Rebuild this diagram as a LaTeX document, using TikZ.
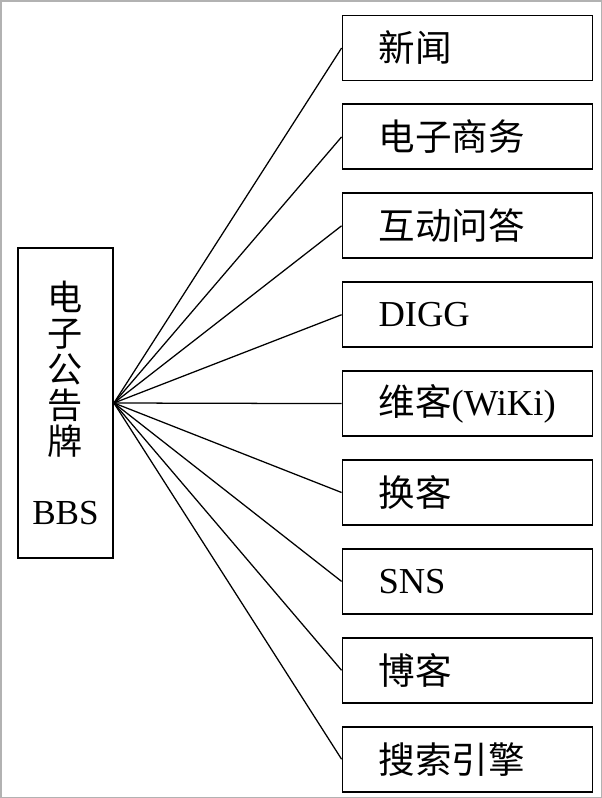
\documentclass[tikz,border=0pt]{standalone}
\usepackage{fontspec}
\setmainfont{Liberation Serif}
\newfontfamily\cjk{Noto Sans CJK SC}
\newcommand{\zh}[1]{{\cjk #1}}
\usepackage{tikz}
\usetikzlibrary{shapes.geometric, arrows}
\tikzstyle{bbsbox} = [rectangle, text width=2cm, minimum width=2.375cm, minimum height=7.75cm, align=center, draw=black, line width=1.3pt, font=\fontsize{25}{25.6}\selectfont]
\tikzstyle{itembox} = [rectangle, text width=4.45cm, inner xsep=0.9cm, minimum width=6.225cm, minimum height=1.625cm, align=left, draw=black, line width=1.3pt, font=\fontsize{26}{28}\selectfont]
\tikzstyle{link} = [line width=0.9pt]

\begin{document}
\begin{tikzpicture}[node distance=2.2225cm]

\useasboundingbox (0,0) rectangle (15.05,-19.95);
\draw [gray!60, line width=1pt] (0.02,-0.02) rectangle (15.03,-19.93);

\node (bbs) [bbsbox] at (1.6375,-10.075) {\zh{电}\\\zh{子}\\\zh{公}\\\zh{告}\\\zh{牌}\\[0.85cm]BBS};
\node (news) [itembox] at (11.6875,-1.2) {\zh{新闻}};
\node (shop) [itembox, below of=news] {\zh{电子商务}};
\node (qa) [itembox, below of=shop] {\zh{互动问答}};
\node (digg) [itembox, below of=qa] {DIGG};
\node (wiki) [itembox, below of=digg] {\zh{维客}(WiKi)};
\node (swap) [itembox, below of=wiki] {\zh{换客}};
\node (sns) [itembox, below of=swap] {SNS};
\node (blog) [itembox, below of=sns] {\zh{博客}};
\node (search) [itembox, below of=blog] {\zh{搜索引擎}};

\foreach \n in {news, shop, qa, digg, wiki, swap, sns, blog, search}
  \draw [link] (bbs.east) -- (\n.west);

\end{tikzpicture}
\end{document}
